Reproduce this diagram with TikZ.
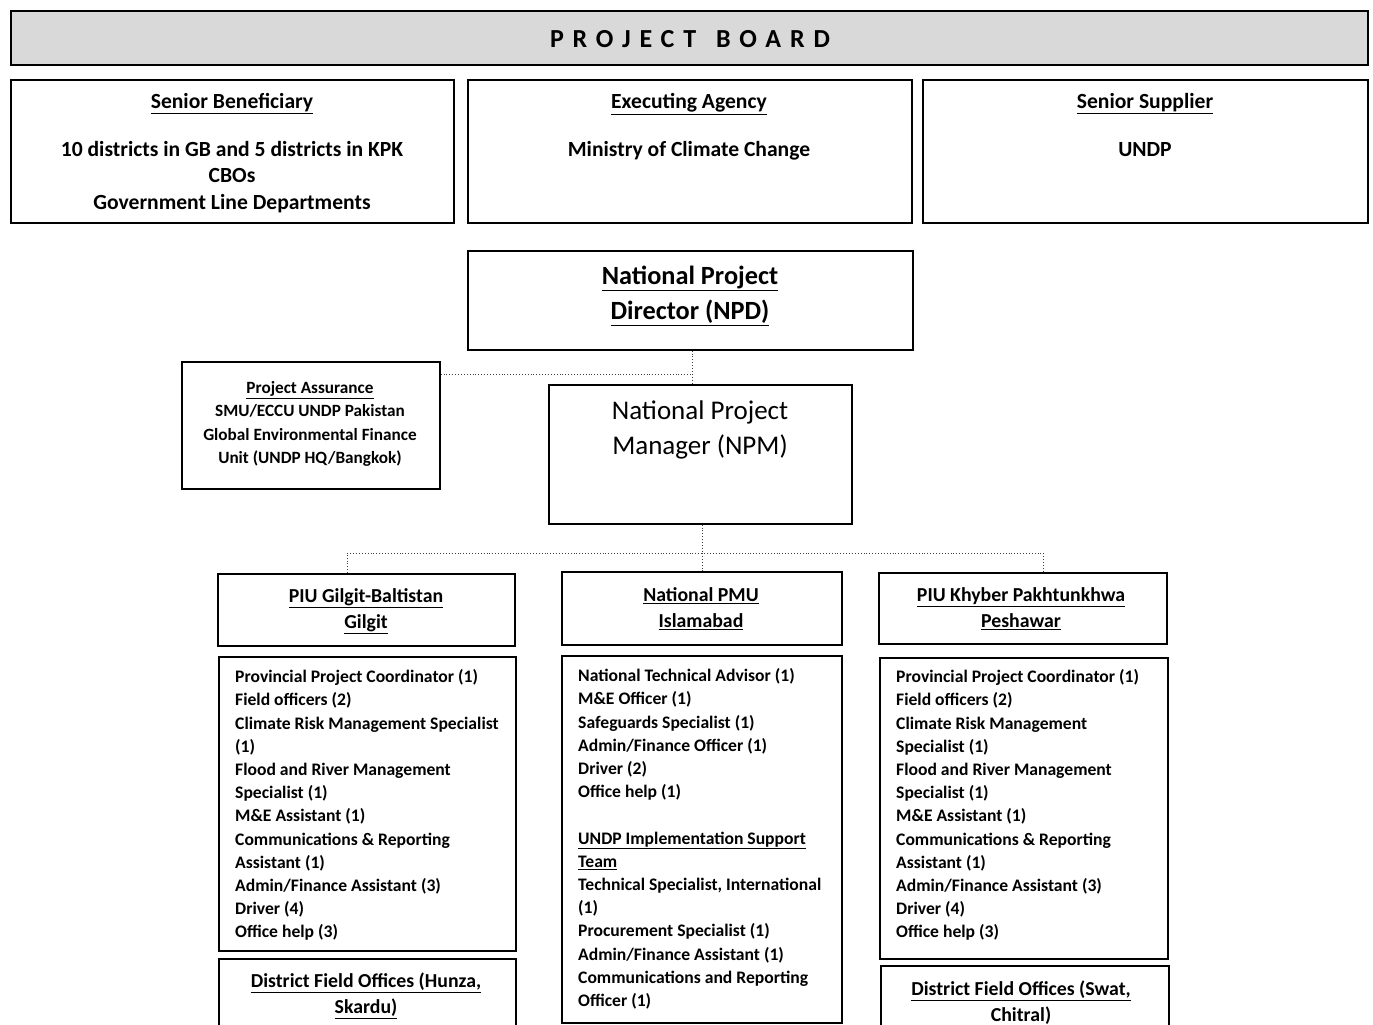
\documentclass[tikz,border=0pt]{standalone}
\usepackage{fontspec}
\setmainfont{Carlito}
\begin{document}
\begin{tikzpicture}[x=1pt,y=-1pt,
  box/.style={draw, line width=1.6pt, anchor=north west, inner sep=0pt},
  conn/.style={dotted, line width=0.9pt, black!75},
  toplbl/.style={font=\bfseries\fontsize{21.6}{26.8}\selectfont, align=center, inner sep=0pt},
  lbl/.style={font=\bfseries\fontsize{19.8}{26}\selectfont, align=center, inner sep=0pt},
  biglbl/.style={font=\fontsize{27}{35}\selectfont, align=center, inner sep=0pt},
  palbl/.style={font=\bfseries\fontsize{17.2}{23.3}\selectfont, align=center, inner sep=0pt},
  lst/.style={font=\bfseries\fontsize{17.6}{23.2}\selectfont, align=left, anchor=north west, inner sep=0pt},
]
\useasboundingbox (0,0) rectangle (1373,1025);
\clip (0,0) rectangle (1373,1025);

% ---- project board ----
\node[box, fill=black!15, minimum width=1357pt, minimum height=54pt] (board) at (10,10) {};
\node[font=\fontsize{26}{30}\selectfont\bfseries\addfontfeatures{LetterSpace=34}, inner sep=0pt]
  (boardtitle) at (690,39) {PROJECT\hspace{5pt} BOARD};

\node[box, minimum width=443pt, minimum height=143pt] (sb) at (10,79) {};
\node[box, minimum width=444pt, minimum height=143pt] (ea) at (467,79) {};
\node[box, minimum width=445pt, minimum height=143pt] (ss) at (922,79) {};

\node[toplbl] (sbt) at (232,104) {\underline{Senior Beneficiary}};
\node[toplbl] (sbb) at (232,177) {10 districts in GB and 5 districts in KPK\\CBOs\\Government Line Departments};
\node[toplbl] (eat) at (689,104) {\underline{Executing Agency}};
\node[toplbl] (eab) at (689,151) {Ministry of Climate Change};
\node[toplbl] (sst) at (1145,104) {\underline{Senior Supplier}};
\node[toplbl] (ssb) at (1145,150) {UNDP};

% ---- direction and assurance ----
\node[box, minimum width=445pt, minimum height=99pt] (npd) at (467,250) {};
\node[biglbl, font=\bfseries\fontsize{26.3}{35}\selectfont] (npdt) at (690,296) {\underline{National Project}\\\underline{Director (NPD)}};

\node[box, minimum width=258pt, minimum height=127pt] (pa) at (181,361) {};
\node[palbl] (pat) at (310,424) {\underline{Project Assurance}\\SMU/ECCU UNDP Pakistan\\Global Environmental Finance\\Unit (UNDP HQ/Bangkok)};

\node[box, minimum width=303pt, minimum height=139pt] (npm) at (548,384) {};
\node[biglbl] (npmt) at (700,430) {National Project\\Manager (NPM)};

\coordinate (j1) at (692,374);
\draw[conn] (npd.south -| j1) -- (npm.north -| j1);
\draw[conn] (pa.east |- j1) -- (j1);

% ---- implementation units ----
\node[box, minimum width=297pt, minimum height=72pt] (gbh) at (217,573) {};
\node[box, minimum width=280pt, minimum height=73pt] (pmuh) at (561,571) {};
\node[box, minimum width=288pt, minimum height=71pt] (kph) at (878,572) {};

\node[lbl] (gbht) at (366,611) {\underline{PIU Gilgit-Baltistan}\\\underline{Gilgit}};
\node[lbl] (pmuht) at (701,609) {\underline{National PMU}\\\underline{Islamabad}};
\node[lbl] (kpht) at (1021,609) {\underline{PIU Khyber Pakhtunkhwa}\\\underline{Peshawar}};

\coordinate (bus) at (702,553);
\coordinate (busl) at (347,553);
\coordinate (busr) at (1043,553);
\draw[conn] (npm.south -| bus) -- (bus);
\draw[conn] (busl |- gbh.north) -- (busl) -- (busr) -- (busr |- kph.north);
\draw[conn] (bus) -- (bus |- pmuh.north);

\node[box, minimum width=297pt, minimum height=294pt] (gbl) at (218,656) {};
\node[box, minimum width=280pt, minimum height=367pt] (pmul) at (561,655) {};
\node[box, minimum width=288pt, minimum height=301pt] (kpl) at (879,657) {};

\node[lst] (gblt) at (235,669.5) {Provincial Project Coordinator (1)\\Field officers (2)\\Climate Risk Management Specialist\\(1)\\Flood and River Management\\Specialist (1)\\M\&E Assistant (1)\\Communications \& Reporting\\Assistant (1)\\Admin/Finance Assistant (3)\\Driver (4)\\Office help (3)};
\node[lst] (pmult) at (578,668.5) {National Technical Advisor (1)\\M\&E Officer (1)\\Safeguards Specialist (1)\\Admin/Finance Officer\ (1)\\Driver (2)\\Office help (1)\\[23.2pt]\underline{UNDP Implementation Support}\\\underline{Team}\\Technical Specialist, International\\(1)\\Procurement Specialist (1)\\Admin/Finance Assistant (1)\\Communications and Reporting\\Officer (1)};
\node[lst] (kplt) at (896,669.5) {Provincial Project Coordinator (1)\\Field officers (2)\\Climate Risk Management\\Specialist (1)\\Flood and River Management\\Specialist (1)\\M\&E Assistant (1)\\Communications \& Reporting\\Assistant (1)\\Admin/Finance Assistant (3)\\Driver (4)\\Office help (3)};

% ---- district field offices (continue below) ----
\node[box, minimum width=297pt, minimum height=90pt] (gbd) at (218,958) {};
\node[box, minimum width=288pt, minimum height=90pt] (kpd) at (880,965) {};
\node[lbl] (gbdt) at (366,996) {\underline{District Field Offices (Hunza,}\\\underline{Skardu)}};
\node[lbl] (kpdt) at (1021,1002.5) {\underline{District Field Offices (Swat,}\\Chitral)};
\end{tikzpicture}
\end{document}
